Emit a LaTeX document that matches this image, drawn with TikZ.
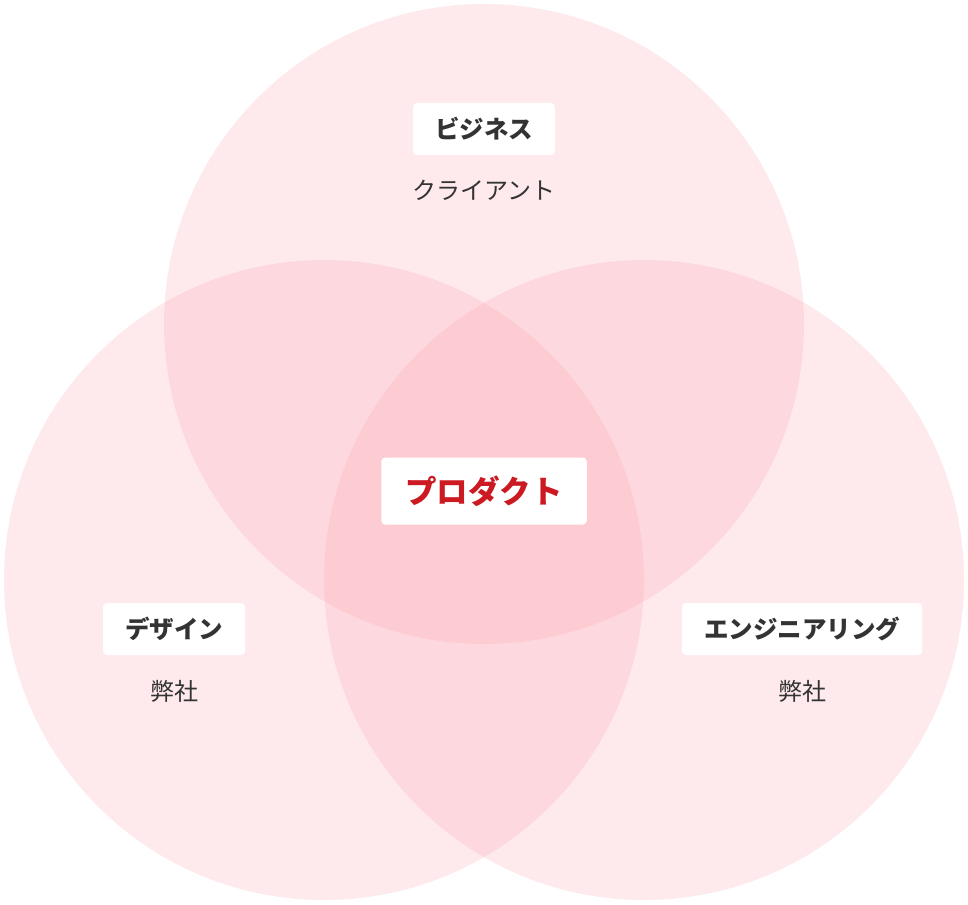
\documentclass[tikz,border=0pt]{standalone}
\usepackage{fontspec}
\setmainfont{Noto Sans CJK JP}
\usepackage{tikz}
\usetikzlibrary{positioning}
\definecolor{venn}{RGB}{250,150,165}
\definecolor{labeltext}{RGB}{51,51,51}
\definecolor{productred}{RGB}{204,26,34}
\tikzset{
	field/.style = {fill=venn, fill opacity=0.2, draw=none},
	labelbox/.style = {fill=white, rounded corners=4pt, inner xsep=22pt, minimum height=52pt, font=\fontsize{24.5}{24.5}\selectfont\bfseries, text=labeltext},
	member/.style = {inner sep=0pt, font=\fontsize{24}{24}\selectfont, text=labeltext},
}

\begin{document}
\begin{tikzpicture}[x=1pt, y=-1pt, node distance = 25pt]
        \useasboundingbox (0,0) rectangle (968,904);
        \fill [field] (484,324) circle [radius=320pt];
        \fill [field] (324,580) circle [radius=320pt];
        \fill [field] (644,580) circle [radius=320pt];
        \node (business) at (484,129) [labelbox] {ビジネス};
        \node (client) [member, below=of business] {クライアント};
        \node (design) at (174,629) [labelbox] {デザイン};
        \node (designteam) [member, below=of design] {弊社};
        \node (engineering) at (802,629) [labelbox] {エンジニアリング};
        \node (engineeringteam) [member, below=of engineering] {弊社};
        \node (product) at (484,491) [labelbox, inner xsep=24pt, minimum height=67pt, font=\fontsize{31.5}{31.5}\selectfont\bfseries, text=productred] {プロダクト};
    \end{tikzpicture}
\end{document}
